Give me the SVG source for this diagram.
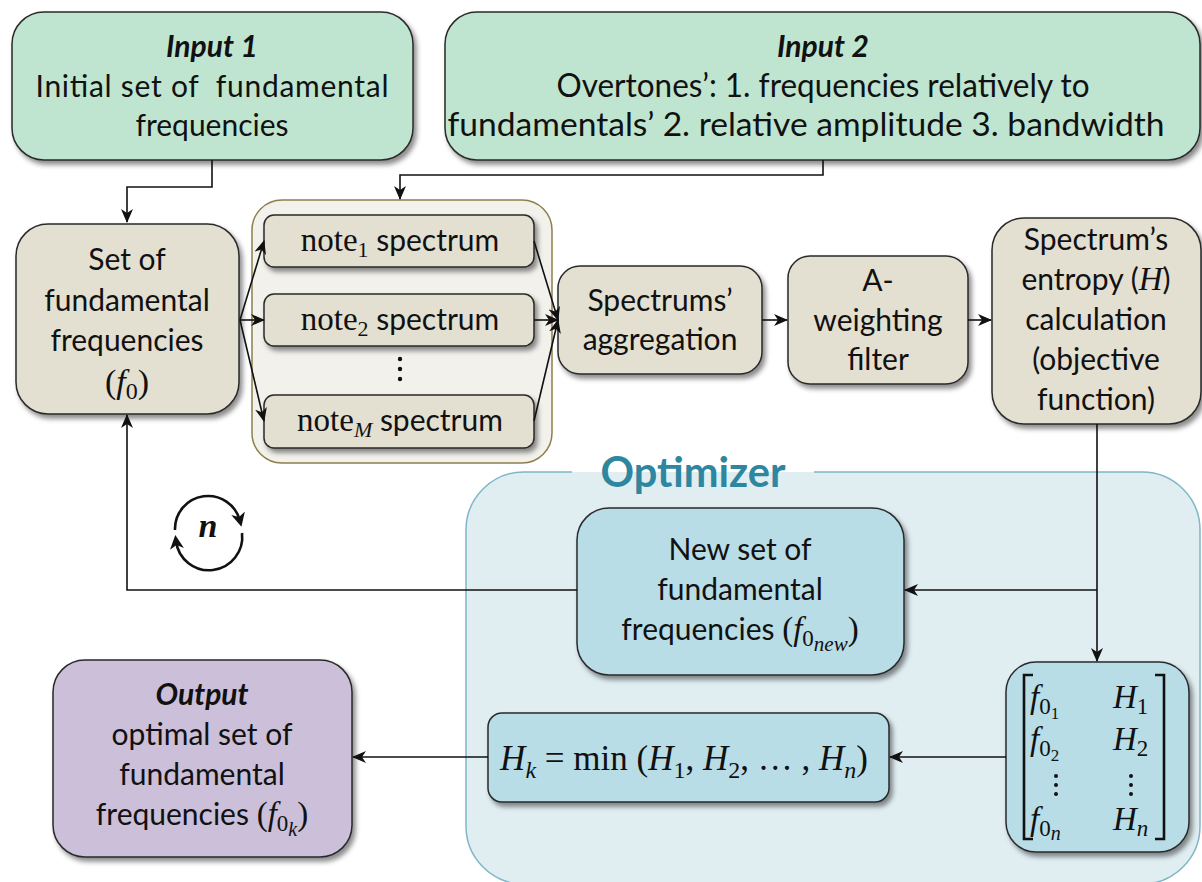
<svg xmlns="http://www.w3.org/2000/svg" width="1202" height="882" viewBox="0 0 1202 882">
  <style>
    .box { stroke: #2a2a2a; stroke-width: 1.5; filter: url(#shadow); }
    .green { fill: #bfe5d0; }
    .beige { fill: #e3e0d1; }
    .blue { fill: #b8dde7; }
    .purple { fill: #cbbfd9; }
    .t { font-family: Lato, "Open Sans", sans-serif; font-size: 30px; fill: #111; text-anchor: middle; white-space: pre; }
    .ti { font-weight: bold; font-style: italic; }
    .m { font-family: "Liberation Serif", "DejaVu Serif", serif; }
    .it { font-style: italic; }
    .conn { fill: none; stroke: #111; stroke-width: 1.6; }
  </style>
  <defs>
    <filter id="shadow" x="-10%" y="-10%" width="130%" height="130%">
      <feDropShadow dx="3" dy="4" stdDeviation="2.5" flood-color="#000" flood-opacity="0.45"/>
    </filter>
    <marker id="arr" markerUnits="userSpaceOnUse" markerWidth="16" markerHeight="12" refX="13" refY="6" orient="auto">
      <path d="M0,0 L14,6 L0,12 L4,6 z" fill="#111"/>
    </marker>
    <marker id="carr" markerUnits="userSpaceOnUse" markerWidth="16" markerHeight="14" refX="8" refY="7" orient="auto">
      <path d="M0,0 L14,7 L0,14 L4,7 z" fill="#111"/>
    </marker>
  </defs>

  <!-- optimizer container -->
  <g id="optimizer">
    <rect x="466" y="472" width="734" height="412" rx="58" fill="#e0eef2"/>
    <path d="M814,472 H1142 A58,58 0 0 1 1200,530 V826 A58,58 0 0 1 1142,884 H524 A58,58 0 0 1 466,826 V530 A58,58 0 0 1 524,472 H572" fill="none" stroke="#7fb6c8" stroke-width="1.5"/>
    <text x="693" y="487" font-family="Lato, 'Open Sans', sans-serif" font-weight="bold" font-size="42" fill="#2e86a0" text-anchor="middle" textLength="185" lengthAdjust="spacingAndGlyphs">Optimizer</text>
  </g>

  <!-- spectrum group container -->
  <g id="spectra">
    <rect x="252" y="200" width="300" height="263" rx="30" fill="#f2f1ec" stroke="#8c7f4c" stroke-width="1.5"/>
  </g>

  <g id="input1">
    <rect class="box green" x="12" y="12" width="401" height="148" rx="32"/>
    <text class="t ti" x="212" y="57">Input 1</text>
    <text class="t" x="212" y="97" textLength="353">Initial set of  fundamental</text>
    <text class="t" x="212" y="136">frequencies</text>
  </g>

  <g id="input2">
    <rect class="box green" x="445" y="12" width="755" height="148" rx="32"/>
    <text class="t ti" x="823" y="57">Input 2</text>
    <text class="t" x="823" y="97" style="font-size:32px" textLength="533" lengthAdjust="spacingAndGlyphs">Overtones’: 1. frequencies relatively to</text>
    <text class="t" x="806" y="136" style="font-size:32px" textLength="717" lengthAdjust="spacingAndGlyphs">fundamentals’ 2. relative amplitude 3. bandwidth</text>
  </g>

  <g id="f0set">
    <rect class="box beige" x="16" y="224" width="223" height="190" rx="32"/>
    <text class="t" x="127" y="270">Set of</text>
    <text class="t" x="127" y="311">fundamental</text>
    <text class="t" x="127" y="351">frequencies</text>
    <text class="t m" x="127" y="393" style="font-size:34px">(<tspan class="it">f</tspan><tspan font-size="24" dy="6">0</tspan><tspan dy="-6">)</tspan></text>
  </g>

  <g id="note1">
    <rect class="box beige" x="264" y="215" width="270" height="52" rx="10"/>
    <text class="t" x="400" y="251"><tspan class="m" font-size="33">note</tspan><tspan class="m" font-size="22" dy="6">1</tspan><tspan dy="-6"> spectrum</tspan></text>
  </g>
  <g id="note2">
    <rect class="box beige" x="264" y="294" width="270" height="52" rx="10"/>
    <text class="t" x="400" y="330"><tspan class="m" font-size="33">note</tspan><tspan class="m" font-size="22" dy="6">2</tspan><tspan dy="-6"> spectrum</tspan></text>
  </g>
  <g id="dots">
    <circle cx="400" cy="359" r="2.2" fill="#111"/>
    <circle cx="400" cy="369" r="2.2" fill="#111"/>
    <circle cx="400" cy="379" r="2.2" fill="#111"/>
  </g>
  <g id="noteM">
    <rect class="box beige" x="264" y="395" width="270" height="53" rx="10"/>
    <text class="t" x="400" y="431"><tspan class="m" font-size="33">note</tspan><tspan class="m it" font-size="22" dy="6">M</tspan><tspan dy="-6"> spectrum</tspan></text>
  </g>

  <g id="aggregation">
    <rect class="box beige" x="558" y="266" width="204" height="108" rx="22"/>
    <text class="t" x="660" y="311">Spectrums’</text>
    <text class="t" x="660" y="350">aggregation</text>
  </g>

  <g id="aweighting">
    <rect class="box beige" x="788" y="256" width="180" height="128" rx="22"/>
    <text class="t" x="878" y="291">A-</text>
    <text class="t" x="878" y="331">weighting</text>
    <text class="t" x="878" y="370">filter</text>
  </g>

  <g id="entropy">
    <rect class="box beige" x="992" y="218" width="209" height="206" rx="32"/>
    <text class="t" x="1096" y="250">Spectrum’s</text>
    <text class="t" x="1096" y="290">entropy (<tspan class="m it" font-size="33">H</tspan>)</text>
    <text class="t" x="1096" y="330">calculation</text>
    <text class="t" x="1096" y="370">(objective</text>
    <text class="t" x="1096" y="410">function)</text>
  </g>

  <g id="newset">
    <rect class="box blue" x="577" y="508" width="327" height="167" rx="32"/>
    <text class="t" x="740" y="560">New set of</text>
    <text class="t" x="740" y="600">fundamental</text>
    <text class="t" x="740" y="640">frequencies <tspan class="m" font-size="33">(</tspan><tspan class="m it" font-size="33">f</tspan><tspan class="m" font-size="23" dy="6">0</tspan><tspan class="m it" font-size="21" dy="5">new</tspan><tspan class="m" font-size="33" dy="-11">)</tspan></text>
  </g>

  <g id="matrix">
    <rect class="box blue" x="1006" y="662" width="183" height="190" rx="30"/>
    <path d="M1033,675 H1024 V839 H1033 M1155,675 H1164 V839 H1155" fill="none" stroke="#111" stroke-width="2.6"/>
    <g class="m" font-size="33" fill="#111">
      <text x="1030" y="708"><tspan class="it">f</tspan><tspan font-size="23" dy="6">0</tspan><tspan font-size="17" dy="5">1</tspan></text>
      <text x="1113" y="708"><tspan class="it">H</tspan><tspan font-size="23" dy="6">1</tspan></text>
      <text x="1030" y="750"><tspan class="it">f</tspan><tspan font-size="23" dy="6">0</tspan><tspan font-size="17" dy="5">2</tspan></text>
      <text x="1113" y="750"><tspan class="it">H</tspan><tspan font-size="23" dy="6">2</tspan></text>
      <text x="1030" y="830"><tspan class="it">f</tspan><tspan font-size="23" dy="6">0</tspan><tspan class="it" font-size="20" dy="4">n</tspan></text>
      <text x="1113" y="830"><tspan class="it">H</tspan><tspan class="it" font-size="23" dy="6">n</tspan></text>
    </g>
    <g fill="#111">
      <circle cx="1056" cy="776" r="2"/><circle cx="1056" cy="785" r="2"/><circle cx="1056" cy="794" r="2"/>
      <circle cx="1131" cy="776" r="2"/><circle cx="1131" cy="785" r="2"/><circle cx="1131" cy="794" r="2"/>
    </g>
  </g>

  <g id="hmin">
    <rect class="box blue" x="488" y="713" width="401" height="89" rx="14"/>
    <text class="t m" x="684" y="770" style="font-size:35px"><tspan class="it">H</tspan><tspan class="it" font-size="24" dy="8">k</tspan><tspan dy="-8"> = min (</tspan><tspan class="it">H</tspan><tspan font-size="24" dy="8">1</tspan><tspan dy="-8">, </tspan><tspan class="it">H</tspan><tspan font-size="24" dy="8">2</tspan><tspan dy="-8">, … , </tspan><tspan class="it">H</tspan><tspan class="it" font-size="24" dy="8">n</tspan><tspan dy="-8">)</tspan></text>
  </g>

  <g id="output">
    <rect class="box purple" x="53" y="660" width="299" height="197" rx="32"/>
    <text class="t ti" x="202" y="705">Output</text>
    <text class="t" x="202" y="745">optimal set of</text>
    <text class="t" x="202" y="785">fundamental</text>
    <text class="t" x="202" y="825">frequencies <tspan class="m" font-size="33">(</tspan><tspan class="m it" font-size="33">f</tspan><tspan class="m" font-size="23" dy="6">0</tspan><tspan class="m it" font-size="20" dy="5">k</tspan><tspan class="m" font-size="33" dy="-11">)</tspan></text>
  </g>

  <!-- iteration counter -->
  <g id="loop">
    <path d="M175,530 A33,33 0 0 1 240,521" fill="none" stroke="#111" stroke-width="2.6" marker-end="url(#carr)"/>
    <path d="M242,533 A33,33 0 0 1 176,541" fill="none" stroke="#111" stroke-width="2.6" marker-end="url(#carr)"/>
    <text x="208" y="537" font-family="'Liberation Serif', 'DejaVu Serif', serif" font-weight="bold" font-style="italic" font-size="34" text-anchor="middle" fill="#111">n</text>
  </g>

  <!-- connectors -->
  <g id="connectors">
    <path class="conn" d="M212,160 V187 H127 V222" marker-end="url(#arr)"/>
    <path class="conn" d="M823,160 V175 H400 V199" marker-end="url(#arr)"/>
    <path class="conn" d="M240,320 L264,241" marker-end="url(#arr)"/>
    <path class="conn" d="M240,320 L264,320" marker-end="url(#arr)"/>
    <path class="conn" d="M240,320 L264,421" marker-end="url(#arr)"/>
    <path class="conn" d="M534,241 L558,320" marker-end="url(#arr)"/>
    <path class="conn" d="M534,320 L558,320" marker-end="url(#arr)"/>
    <path class="conn" d="M534,421 L558,320" marker-end="url(#arr)"/>
    <path class="conn" d="M762,320 H787" marker-end="url(#arr)"/>
    <path class="conn" d="M968,320 H991" marker-end="url(#arr)"/>
    <path class="conn" d="M1097,424 V661" marker-end="url(#arr)"/>
    <path class="conn" d="M1097,590 H905" marker-end="url(#arr)"/>
    <path class="conn" d="M577,590 H127 V415" marker-end="url(#arr)"/>
    <path class="conn" d="M1006,757 H890" marker-end="url(#arr)"/>
    <path class="conn" d="M488,757 H353" marker-end="url(#arr)"/>
  </g>
</svg>
